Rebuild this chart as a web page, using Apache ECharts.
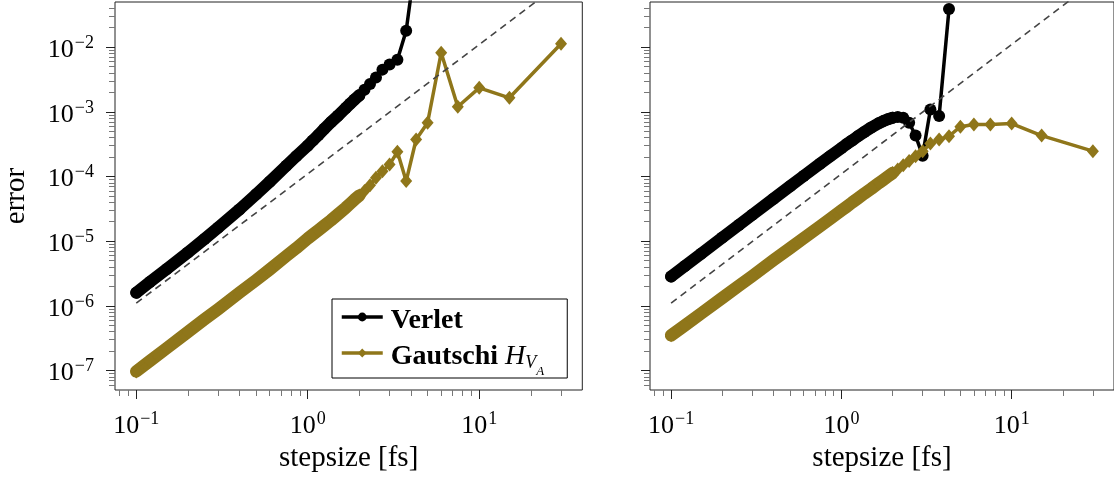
<!DOCTYPE html>
<html>
<head>
<meta charset="utf-8">
<script src="https://cdn.jsdelivr.net/npm/echarts@6/dist/echarts.min.js"></script>
<style>
  html, body { margin: 0; padding: 0; background: #ffffff; }
  #main { width: 1114px; height: 486px; }
</style>
</head>
<body>
<div id="main"></div>
<script>
// Step sizes in fs (a 30 fs window split into n steps).
const stepsize = [0.1, 0.12, 0.15, 0.2, 0.25, 0.3, 0.4, 0.5, 0.6, 0.75, 0.857,
  1.0, 1.071, 1.154, 1.25, 1.364, 1.5, 1.667, 1.765, 1.875, 2.0, 2.143, 2.308,
  2.5, 2.727, 3.0, 3.333, 3.75, 4.286, 5, 6, 7.5, 10, 15, 30];

// Left panel errors
const verletLeft = [1.6e-6, 2.33e-6, 3.68e-6, 6.7e-6, 1.08e-5, 1.62e-5, 3.1e-5, 5.3e-5, 8.3e-5, 1.47e-4, 2.06e-4,
  3.0e-4, 3.62e-4, 4.4e-4, 5.47e-4, 6.9e-4, 8.7e-4, 1.15e-3, 1.33e-3, 1.55e-3, 1.8e-3, 2.2e-3, 2.7e-3,
  3.4e-3, 4.5e-3, 5.4e-3, 6.4e-3, 1.8e-2, 0.25, null, null, null, null, null, null];
const gautschiLeft = [9.7e-8, 1.4e-7, 2.2e-7, 3.95e-7, 6.2e-7, 8.9e-7, 1.6e-6, 2.5e-6, 3.65e-6, 5.9e-6, 7.8e-6,
  1.1e-5, 1.27e-5, 1.48e-5, 1.75e-5, 2.1e-5, 2.6e-5, 3.3e-5, 3.8e-5, 4.4e-5, 5.1e-5, 6.0e-5, 7.3e-5,
  9.6e-5, 1.21e-4, 1.53e-4, 2.41e-4, 8.5e-5, 3.74e-4, 6.8e-4, 8.2e-3, 1.2e-3, 2.35e-3, 1.65e-3, 1.13e-2];

// Right panel errors
const verletRight = [2.85e-6, 4.1e-6, 6.4e-6, 1.14e-5, 1.78e-5, 2.56e-5, 4.55e-5, 7.1e-5, 1.02e-4, 1.58e-4, 2.05e-4,
  2.75e-4, 3.15e-4, 3.6e-4, 4.2e-4, 4.9e-4, 5.75e-4, 6.7e-4, 7.2e-4, 7.7e-4, 8.1e-4, 8.35e-4, 8.1e-4,
  6.8e-4, 4.3e-4, 2.1e-4, 1.09e-3, 8.6e-4, 3.9e-2, null, null, null, null, null, null];
const gautschiRight = [3.5e-7, 4.95e-7, 7.6e-7, 1.33e-6, 2.05e-6, 2.9e-6, 5.1e-6, 7.8e-6, 1.11e-5, 1.7e-5, 2.2e-5,
  2.98e-5, 3.4e-5, 3.95e-5, 4.6e-5, 5.45e-5, 6.5e-5, 8.0e-5, 8.9e-5, 1.0e-4, 1.13e-4, 1.29e-4, 1.49e-4,
  1.74e-4, 2.05e-4, 2.47e-4, 3.24e-4, 3.74e-4, 4.2e-4, 5.9e-4, 6.4e-4, 6.4e-4, 6.6e-4, 4.3e-4, 2.47e-4];

// Second-order reference line
const refX = [0.1, 30];
const refY = [1.1e-6, 9.9e-2];

// Axis ticks
const xMajor = [0.1, 1, 10];
const yMajor = [1e-7, 1e-6, 1e-5, 1e-4, 1e-3, 1e-2];
const xLimits = [0.07517, 39.91];
const yLimits = [5e-8, 5e-2];

const FONT = 'Liberation Serif';
const GOLD = '#8f761a';
const INK = '#000000';
const DENSE_END = 2.0; // markers merge into a solid band up to here

function minorTicks(lo, hi) {
  const out = [];
  for (let e = Math.floor(Math.log10(lo)); e <= Math.ceil(Math.log10(hi)); e++) {
    for (let m = 2; m <= 9; m++) {
      const v = m * Math.pow(10, e);
      if (v > lo && v < hi) out.push(+v.toPrecision(3));
    }
  }
  return out;
}
const xMinor = minorTicks(xLimits[0], xLimits[1]);
const yMinor = minorTicks(yLimits[0], yLimits[1]);

function pairs(xs, ys) {
  const out = [];
  xs.forEach((x, i) => { if (ys[i] != null) out.push([x, ys[i]]); });
  return out;
}
function dense(xs, ys) {
  return pairs(xs, ys).filter(p => p[0] <= DENSE_END);
}

function powLabel(v) {
  const e = Math.round(Math.log10(v));
  return '{b|10}{s|' + (e < 0 ? '\u2212' + (-e) : String(e)) + '}';
}
const tickRich = {
  b: { fontFamily: FONT, fontSize: 26, lineHeight: 26, padding: [3, 0, 0, 0], verticalAlign: 'top', color: INK },
  s: { fontFamily: FONT, fontSize: 18, lineHeight: 18, padding: [0, 0, 0, 1], verticalAlign: 'top', color: INK }
};

function xAxes(grid) {
  return [
    {
      type: 'log', logBase: 10, gridIndex: grid, position: 'bottom',
      min: xLimits[0], max: xLimits[1],
      axisLine: { show: false }, splitLine: { show: false },
      axisTick: { show: true, customValues: xMajor, length: 9, lineStyle: { color: '#222', width: 1 } },
      axisLabel: { show: true, customValues: xMajor, formatter: powLabel, margin: 20, rich: tickRich },
      name: 'stepsize [fs]', nameLocation: 'middle', nameGap: 54,
      nameTextStyle: { fontFamily: FONT, fontSize: 29, color: INK }
    },
    {
      type: 'log', logBase: 10, gridIndex: grid, position: 'bottom',
      min: xLimits[0], max: xLimits[1],
      axisLine: { show: false }, splitLine: { show: false },
      axisTick: { show: true, customValues: xMinor, length: 6, lineStyle: { color: '#777', width: 1 } },
      axisLabel: { show: false }
    }
  ];
}
function yAxes(grid, labelled) {
  return [
    {
      type: 'log', logBase: 10, gridIndex: grid, position: 'left',
      min: yLimits[0], max: yLimits[1],
      axisLine: { show: false }, splitLine: { show: false },
      axisTick: { show: true, customValues: yMajor, length: 9, lineStyle: { color: '#222', width: 1 } },
      axisLabel: { show: labelled, customValues: yMajor, formatter: powLabel, margin: 21, rich: tickRich },
      name: labelled ? 'error' : '', nameLocation: 'middle', nameGap: 84,
      nameTextStyle: { fontFamily: FONT, fontSize: 29, color: INK }
    },
    {
      type: 'log', logBase: 10, gridIndex: grid, position: 'left',
      min: yLimits[0], max: yLimits[1],
      axisLine: { show: false }, splitLine: { show: false },
      axisTick: { show: true, customValues: yMinor, length: 6, lineStyle: { color: '#777', width: 1 } },
      axisLabel: { show: false }
    }
  ];
}

function panelSeries(grid, verlet, gautschi) {
  const xi = grid * 2, yi = grid * 2;
  return [
    {
      name: 'Verlet band', type: 'line', xAxisIndex: xi, yAxisIndex: yi, silent: true,
      data: dense(stepsize, verlet), showSymbol: false, symbol: 'none',
      lineStyle: { color: INK, width: 12, cap: 'round', join: 'round' }, z: 2
    },
    {
      name: 'Verlet', type: 'line', xAxisIndex: xi, yAxisIndex: yi,
      data: pairs(stepsize, verlet), symbol: 'circle', symbolSize: 12,
      itemStyle: { color: INK }, lineStyle: { color: INK, width: 3.5 }, z: 3
    },
    {
      name: 'Gautschi band', type: 'line', xAxisIndex: xi, yAxisIndex: yi, silent: true,
      data: dense(stepsize, gautschi), showSymbol: false, symbol: 'none',
      lineStyle: { color: GOLD, width: 12.5, cap: 'round', join: 'round' }, z: 4
    },
    {
      name: 'Gautschi', type: 'line', xAxisIndex: xi, yAxisIndex: yi,
      data: pairs(stepsize, gautschi), symbol: 'diamond', symbolSize: [12, 14],
      itemStyle: { color: GOLD }, lineStyle: { color: GOLD, width: 3.5 }, z: 5
    },
    {
      name: 'order 2', type: 'line', xAxisIndex: xi, yAxisIndex: yi, silent: true,
      data: pairs(refX, refY), symbol: 'none',
      lineStyle: { color: '#444', width: 1.6, type: [7, 5] }, z: 6
    }
  ];
}

const chart = echarts.init(document.getElementById('main'), null, { renderer: 'canvas' });
chart.setOption({
  animation: false,
  backgroundColor: '#ffffff',
  grid: [
    { left: 115, top: 2, width: 467.3, height: 388, show: true, borderColor: '#222', borderWidth: 1, backgroundColor: 'transparent' },
    { left: 650, top: 2, width: 467.3, height: 388, show: true, borderColor: '#222', borderWidth: 1, backgroundColor: 'transparent' }
  ],
  xAxis: [...xAxes(0), ...xAxes(1)],
  yAxis: [...yAxes(0, true), ...yAxes(1, false)],
  legend: {
    data: ['Verlet', 'Gautschi'],
    orient: 'vertical', left: 332, top: 299,
    padding: [4, 23, 0, 8], itemGap: 2,
    itemWidth: 41, itemHeight: 11,
    lineStyle: { width: 3.5 },
    backgroundColor: '#ffffff', borderColor: '#000', borderWidth: 1, borderRadius: 0,
    selectedMode: false,
    formatter: function (name) {
      return name === 'Verlet' ? '{bv|Verlet}' : '{b|Gautschi }{i|H}{v|V}{a|A}';
    },
    textStyle: {
      fontFamily: FONT, fontSize: 28, color: INK,
      rich: {
        bv: { fontFamily: FONT, fontSize: 28, fontWeight: 'bold', lineHeight: 28, padding: [4, 0, 2, 3], verticalAlign: 'top', color: INK },
        b: { fontFamily: FONT, fontSize: 28, fontWeight: 'bold', lineHeight: 28, padding: [4, 0, 0, 3], verticalAlign: 'top', color: INK },
        i: { fontFamily: FONT, fontSize: 28, fontStyle: 'italic', lineHeight: 28, padding: [4, 0, 0, 0], verticalAlign: 'top', color: INK },
        v: { fontFamily: FONT, fontSize: 18, fontStyle: 'italic', lineHeight: 18, padding: [15, 0, 0, 0], verticalAlign: 'top', color: INK },
        a: { fontFamily: FONT, fontSize: 13, fontStyle: 'italic', lineHeight: 8, padding: [26, 0, 0, 0], verticalAlign: 'top', color: INK }
      }
    }
  },
  series: [...panelSeries(0, verletLeft, gautschiLeft), ...panelSeries(1, verletRight, gautschiRight)]
});
</script>
</body>
</html>
